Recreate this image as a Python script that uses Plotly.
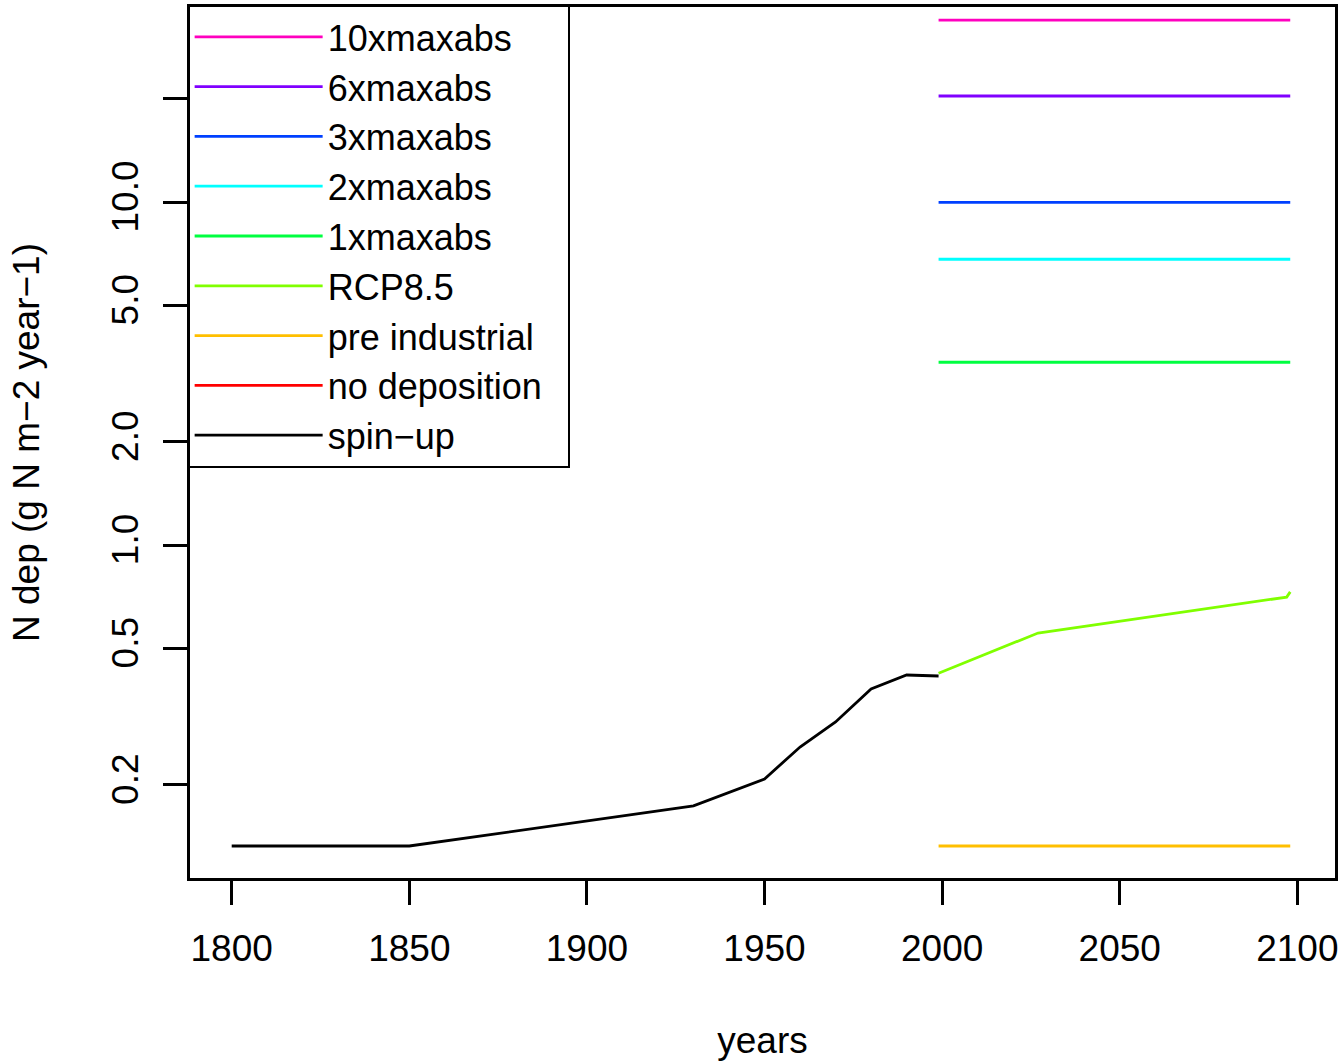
import plotly.graph_objects as go

# ---- data ----
spinup_years = [1800, 1850, 1930, 1950, 1960, 1970, 1980, 1990, 1999]
spinup_vals = [0.1326, 0.1326, 0.1735, 0.2079, 0.2577, 0.3048, 0.3803, 0.4178, 0.415]

scen_years = [1999, 2098]
x10_val = 33.9
x6_val = 20.37
x3_val = 9.98
x2_val = 6.81
x1_val = 3.41
preind_val = 0.1326
nodep_val = 0.0  # not visible on log scale

rcp_years = [1999, 2027, 2097, 2098]
rcp_vals = [0.423, 0.554, 0.705, 0.73]

ytick_vals = [0.2, 0.5, 1, 2, 5, 10, 20]
ytick_text = ["0.2", "0.5", "1.0", "2.0", "5.0", "10.0", ""]
xtick_vals = [1800, 1850, 1900, 1950, 2000, 2050, 2100]

FONT = "Liberation Sans, Arial, Helvetica, sans-serif"
LW = 2.8

series = [
    ("10xmaxabs", scen_years, [x10_val] * 2, "#FF00BF"),
    ("6xmaxabs", scen_years, [x6_val] * 2, "#8000FF"),
    ("3xmaxabs", scen_years, [x3_val] * 2, "#0040FF"),
    ("2xmaxabs", scen_years, [x2_val] * 2, "#00FFFF"),
    ("1xmaxabs", scen_years, [x1_val] * 2, "#00FF40"),
    ("RCP8.5", rcp_years, rcp_vals, "#80FF00"),
    ("pre industrial", scen_years, [preind_val] * 2, "#FFBF00"),
    ("no deposition\u00a0\u00a0", scen_years, [nodep_val] * 2, "#FF0000"),
    ("spin\u2212up", spinup_years, spinup_vals, "#000000"),
]

fig = go.Figure()
for name, xs, ys, col in series:
    fig.add_trace(go.Scatter(x=xs, y=ys, mode="lines", name=name,
                             line=dict(color=col, width=LW)))

fig.update_layout(
    width=1342, height=1061,
    margin=dict(l=190, r=7, t=7, b=183, autoexpand=False),
    paper_bgcolor="white", plot_bgcolor="white",
    font=dict(family=FONT, size=37, color="black"),
    showlegend=True,
    legend=dict(
        x=-0.0025, y=1.003, xanchor="left", yanchor="top",
        bgcolor="white", bordercolor="black", borderwidth=2.5,
        font=dict(family=FONT, size=36, color="black"),
        itemwidth=128, traceorder="normal",
        tracegroupgap=0,
    ),
    xaxis=dict(
        range=[1788.26, 2110.6], tickvals=xtick_vals,
        showgrid=False, zeroline=False, automargin=False,
        showline=True, linecolor="black", linewidth=2.5, mirror=True,
        ticks="outside", ticklen=24, tickwidth=2.5, tickcolor="black",
        tickfont=dict(size=37), ticklabelstandoff=12,
        title=dict(text="years", font=dict(size=37), standoff=63),
    ),
    yaxis=dict(
        type="log", range=[-0.9708, 1.5685],
        tickvals=ytick_vals, ticktext=ytick_text, tickangle=-90,
        showgrid=False, zeroline=False, automargin=False,
        showline=True, linecolor="black", linewidth=2.5, mirror=True,
        ticks="outside", ticklen=24, tickwidth=2.5, tickcolor="black",
        tickfont=dict(size=37), ticklabelstandoff=10,
        title=dict(text="N dep (g N m\u22122 year\u22121)", font=dict(size=37), standoff=55),
    ),
)

fig.write_html(
    "out.html",
    config={"displayModeBar": False},
    post_script="document.body.style.margin='0';document.body.style.overflow='hidden';",
)
